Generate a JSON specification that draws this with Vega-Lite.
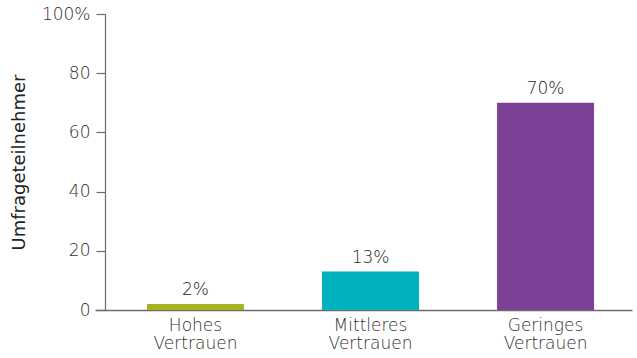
{
  "$schema": "https://vega.github.io/schema/vega-lite/v6.json",
  "autosize": {"type": "none"},
  "padding": {"left": 95, "top": 14, "right": 5, "bottom": 48},
  "width": 537,
  "height": 296,
  "background": "white",
  "config": {
    "view": {"stroke": null},
    "font": "DejaVu Sans",
    "axis": {"grid": false, "domainColor": "#6b6b6b", "tickColor": "#6b6b6b", "labelColor": "#2e2e2e", "titleColor": "#222222", "labelFontSize": 17, "titleFontSize": 18, "labelFont": "DejaVu Sans", "titleFont": "DejaVu Sans"}
  },
  "data": {
    "values": [
      {"kategorie": "Hohes Vertrauen", "wert": 2, "label": "2%"},
      {"kategorie": "Mittleres Vertrauen", "wert": 13, "label": "13%"},
      {"kategorie": "Geringes Vertrauen", "wert": 70, "label": "70%"}
    ]
  },
  "encoding": {
    "x": {
      "field": "kategorie",
      "type": "nominal",
      "sort": null,
      "scale": {"paddingInner": 0.446, "paddingOuter": 0.257, "align": 0.578},
      "axis": {"title": null, "labelAngle": 0, "ticks": false, "labelPadding": 7, "labelExpr": "split(datum.label, ' ')", "labelLineHeight": 18, "domainWidth": 1.5, "labelFontWeight": 300}
    },
    "y": {
      "field": "wert",
      "type": "quantitative",
      "scale": {"domain": [0, 100]},
      "axis": {"title": "Umfrageteilnehmer", "values": [0, 20, 40, 60, 80, 100], "labelExpr": "datum.value == 100 ? '100%' : datum.label", "offset": -10, "tickSize": 9, "labelPadding": 6, "titlePadding": 13, "domainWidth": 1.2, "tickWidth": 1.2, "titleFontWeight": "normal", "labelFontWeight": 300}
    }
  },
  "layer": [
    {
      "mark": {"type": "bar"},
      "encoding": {
        "color": {
          "field": "kategorie",
          "type": "nominal",
          "scale": {"domain": ["Hohes Vertrauen", "Mittleres Vertrauen", "Geringes Vertrauen"], "range": ["#a6b320", "#00b2be", "#7c4197"]},
          "legend": null
        }
      }
    },
    {
      "mark": {"type": "text", "baseline": "alphabetic", "dy": -9, "fontSize": 17, "fontWeight": 300, "color": "#222222"},
      "encoding": {"text": {"field": "label"}}
    }
  ]
}
